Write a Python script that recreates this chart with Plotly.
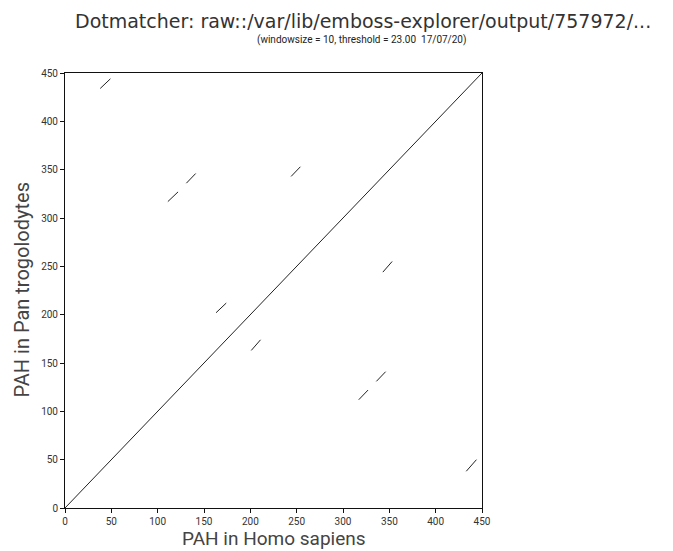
import plotly.graph_objects as go

# Match segments (sequence 1 position -> sequence 2 position)
x_start = [0, 38, 111, 131, 244, 163, 201, 343, 317, 336, 433]
x_end   = [450, 49, 122, 141, 254, 174, 211, 353, 327, 346, 444]
y_start = [0, 434, 317, 336, 343, 202, 163, 244, 112, 131, 38]
y_end   = [450, 444, 327, 346, 353, 212, 174, 255, 122, 141, 50]

tick_vals = [0, 50, 100, 150, 200, 250, 300, 350, 400, 450]
tick_text = [str(v) for v in tick_vals]

title_text = "Dotmatcher: raw::/var/lib/emboss-explorer/output/757972/..."
subtitle_text = "(windowsize = 10, threshold = 23.00  17/07/20)"
x_title = "PAH in Homo sapiens"
y_title = "PAH in Pan trogolodytes"

xs, ys = [], []
for a, b, c, d in zip(x_start, x_end, y_start, y_end):
    xs += [a, b, None]
    ys += [c, d, None]

fig = go.Figure()
fig.add_trace(go.Scatter(x=xs, y=ys, mode="lines",
                         line=dict(color="#222222", width=1),
                         hoverinfo="skip", showlegend=False))

font_family = "Roboto, DejaVu Sans, sans-serif"
title_family = "DejaVu Sans, sans-serif"

# page body has an 8px margin; compensate so the plot lands where the reference has it
OFF = 8
fig.update_layout(
    width=673 - OFF, height=551 - OFF,
    paper_bgcolor="white", plot_bgcolor="white",
    margin=dict(l=65 - OFF, r=190.5, t=72.5 - OFF, b=42.7, pad=0),
    font=dict(family=font_family, color="#222222"),
    showlegend=False,
)
axis_common = dict(range=[0, 450], tickvals=tick_vals, ticktext=tick_text,
                   showgrid=False, zeroline=False, showline=True, mirror=True,
                   linecolor="#111111", linewidth=1, ticks="outside", ticklen=4,
                   tickcolor="#111111", automargin=False,
                   tickfont=dict(size=10, color="#333333", family=font_family))
fig.update_xaxes(**axis_common)
fig.update_yaxes(**axis_common)

fig.add_annotation(text=title_text, borderpad=0,
                   xref="paper", yref="paper", x=(363 - 65) / 417.5, y=1, yshift=52.5,
                   xanchor="center", yanchor="middle", showarrow=False,
                   font=dict(size=19, color="#333333", family=title_family))
fig.add_annotation(text=subtitle_text, borderpad=0,
                   xref="paper", yref="paper", x=(362 - 65) / 417.5, y=1, yshift=33,
                   xanchor="center", yanchor="middle", showarrow=False,
                   font=dict(size=10, color="#222222", family=font_family))
fig.add_annotation(text=x_title, borderpad=0,
                   xref="paper", yref="paper", x=0.5, y=0, yshift=-30,
                   xanchor="center", yanchor="middle", showarrow=False,
                   font=dict(size=19, color="#444444", family=font_family))
fig.add_annotation(text=y_title, textangle=-90, borderpad=0,
                   xref="paper", yref="paper", x=0, xshift=-44, y=0.5,
                   xanchor="center", yanchor="middle", showarrow=False,
                   font=dict(size=20, color="#444444", family=font_family))

fig.write_html("out.html")
